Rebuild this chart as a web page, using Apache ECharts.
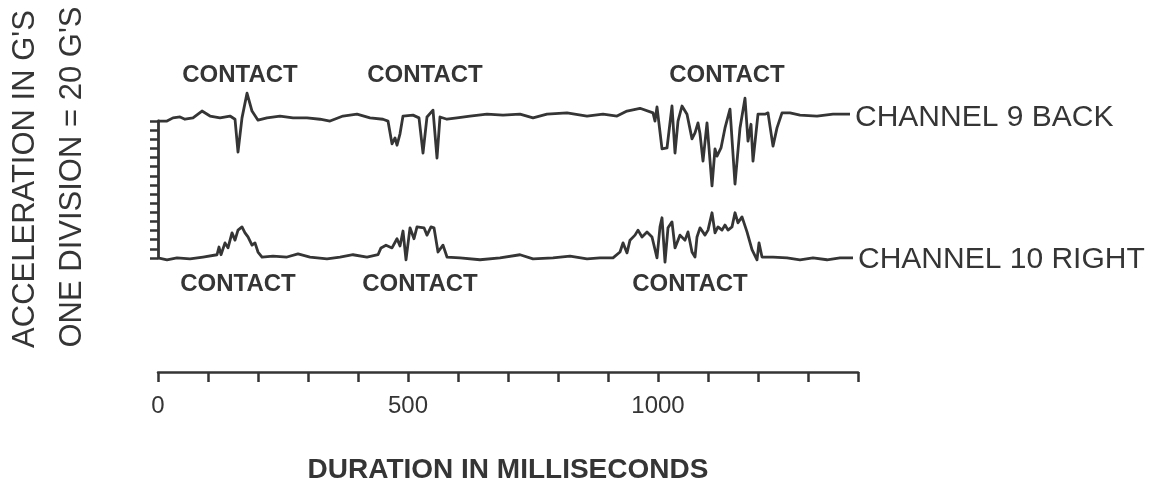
<!DOCTYPE html>
<html>
<head>
<meta charset="utf-8">
<script src="https://cdn.jsdelivr.net/npm/echarts@6/dist/echarts.min.js"></script>
<style>
  html, body { margin: 0; padding: 0; background: #fff; }
  #chart { width: 1162px; height: 493px; }
</style>
</head>
<body>
<div id="chart"></div>
<script>
// time in milliseconds, acceleration in G's relative to each channel's own baseline
const timeCh9 = [0, 4, 18, 30, 44, 54, 70, 88, 104, 124, 144, 154, 160, 168, 178, 188, 200, 218, 244, 270,
  298, 324, 344, 370, 398, 424, 450, 460, 468, 474, 478, 484, 490, 510, 522, 530, 538, 550, 558, 564,
  578, 598, 624, 658, 690, 724, 750, 778, 818, 858, 890, 918, 938, 964, 990, 994, 998, 1008, 1018, 1028,
  1034, 1040, 1048, 1058, 1068, 1074, 1080, 1084, 1090, 1098, 1108, 1114, 1118, 1126, 1134, 1144, 1154, 1164, 1174, 1180,
  1186, 1190, 1200, 1214, 1220, 1230, 1238, 1248, 1264, 1284, 1318, 1350, 1384];
const accelCh9 = [0, 2, 0, 7, 9, 4, 7, 22, 11, 7, 11, 4, -68, 7, 61, 22, 2, 7, 11, 7,
  7, 4, 0, 11, 15, 7, 4, 0, -50, -37, -53, -28, 11, 13, 7, -70, 9, 24, -81, 9,
  4, 7, 11, 15, 13, 15, 7, 15, 18, 11, 15, 11, 22, 28, 18, 0, 31, -61, -59, 33,
  -70, 0, 33, 15, -39, -26, -4, -28, -88, -4, -142, -61, -77, -59, -15, 26, -138, -15, 50, -44,
  -7, -88, 15, 15, 18, -55, -15, 18, 18, 13, 11, 15, 15];

const timeCh10 = [0, 18, 38, 64, 90, 118, 122, 126, 134, 140, 148, 154, 160, 168, 174, 180, 188, 194, 200, 208,
  230, 258, 280, 304, 338, 364, 390, 418, 440, 446, 456, 468, 478, 484, 490, 496, 504, 512, 518, 532,
  538, 546, 552, 560, 570, 578, 604, 644, 684, 724, 750, 790, 824, 858, 884, 910, 924, 930, 938, 944,
  954, 960, 968, 978, 988, 998, 1004, 1008, 1014, 1020, 1028, 1034, 1044, 1054, 1060, 1068, 1074, 1078, 1084, 1094,
  1100, 1108, 1114, 1120, 1128, 1134, 1140, 1148, 1154, 1160, 1168, 1178, 1188, 1198, 1202, 1208, 1230, 1258, 1284, 1310,
  1338, 1364, 1390];
const accelCh10 = [0, -4, 0, -2, 2, 7, 24, 7, 33, 22, 55, 39, 61, 68, 55, 46, 28, 33, 13, 2,
  4, 2, 9, 2, -2, 2, 7, 2, 7, 22, 28, 22, 42, 26, 59, -4, 66, 42, 68, 66,
  50, 68, 66, 13, 28, 2, 0, -4, 0, 7, -2, 0, 4, -2, 0, 0, 13, 33, 11, 39,
  50, 61, 46, 57, 46, 0, 68, 88, -9, 66, 79, 22, 50, 39, 57, 13, 2, 46, 66, 50,
  61, 99, 55, 68, 61, 72, 61, 68, 99, 77, 90, 57, 18, -4, 33, 2, 2, 0, -4, 0,
  -4, 0, 0];

const channelNames = ['CHANNEL 9 BACK', 'CHANNEL 10 RIGHT'];
const channelOffsets = [300, 0];            // 15 divisions apart
const xLabelValues = [0, 500, 1000];
const contactTop = [[164, 400], [534, 400], [1138, 400]];
const contactBottom = [[160, -57], [524, -57], [1064, -57]];

const ink = '#353535';

const toPairs = (times, vals, off) => times.map((t, i) => [t, vals[i] + off]);

const contactMark = (coords) => ({
  symbol: 'circle',
  symbolSize: 0,
  silent: true,
  label: {
    show: true,
    position: 'inside',
    formatter: 'CONTACT',
    color: ink,
    fontFamily: 'Liberation Sans',
    fontWeight: 'bold',
    fontSize: 24
  },
  data: coords.map(c => ({ coord: c }))
});

const traceSeries = (name, times, vals, off, marks, labelOffset) => ({
  name: name,
  type: 'line',
  xAxisIndex: 0,
  yAxisIndex: 0,
  data: toPairs(times, vals, off),
  showSymbol: false,
  clip: false,
  animation: false,
  lineStyle: { color: ink, width: 2.8, join: 'round' },
  endLabel: {
    show: true,
    formatter: name,
    color: ink,
    fontFamily: 'Liberation Sans',
    fontSize: 30,
    distance: 5,
    offset: labelOffset
  },
  markPoint: contactMark(marks)
});

const chart = echarts.init(document.getElementById('chart'));

chart.setOption({
  backgroundColor: '#fff',
  animation: false,
  grid: [
    { left: 158, right: 304, top: 7, bottom: 121 },
    { left: 158, width: 10, top: 121, bottom: 235 }
  ],
  xAxis: [
    {
      gridIndex: 0,
      type: 'value',
      min: 0,
      max: 1400,
      interval: 100,
      name: 'DURATION IN MILLISECONDS',
      nameLocation: 'middle',
      nameGap: 84,
      nameTextStyle: { color: ink, fontFamily: 'Liberation Sans', fontWeight: 'bold', fontSize: 28 },
      axisLine: { show: true, onZero: false, lineStyle: { color: ink, width: 2.5 } },
      axisTick: { show: true, length: 10, lineStyle: { color: ink, width: 2.5 } },
      axisLabel: {
        color: ink,
        fontFamily: 'Liberation Sans',
        fontSize: 24,
        margin: 22,
        formatter: v => (xLabelValues.includes(v) ? String(v) : '')
      },
      splitLine: { show: false }
    },
    { gridIndex: 1, type: 'value', min: 0, max: 1, show: false }
  ],
  yAxis: [
    {
      gridIndex: 0,
      type: 'value',
      min: -250,
      max: 550,
      show: false
    },
    {
      gridIndex: 1,
      type: 'value',
      min: 0,
      max: 300,
      interval: 20,
      axisLine: { show: true, lineStyle: { color: ink, width: 2.8 } },
      axisTick: { show: true, length: 8, lineStyle: { color: ink, width: 2.5 } },
      axisLabel: { show: false },
      splitLine: { show: false }
    }
  ],
  graphic: [
    {
      type: 'text',
      x: 25, y: 179,
      rotation: Math.PI / 2,
      style: {
        text: "ACCELERATION IN G'S",
        fill: ink,
        font: '31px "Liberation Sans"',
        align: 'center',
        verticalAlign: 'middle'
      }
    },
    {
      type: 'text',
      x: 72, y: 177,
      rotation: Math.PI / 2,
      style: {
        text: "ONE DIVISION = 20 G'S",
        fill: ink,
        font: '31px "Liberation Sans"',
        align: 'center',
        verticalAlign: 'middle'
      }
    }
  ],
  series: [
    traceSeries(channelNames[0], timeCh9, accelCh9, channelOffsets[0], contactTop, [0, 4]),
    traceSeries(channelNames[1], timeCh10, accelCh10, channelOffsets[1], contactBottom, [0, 2])
  ]
});

window.addEventListener('resize', () => chart.resize());
</script>
</body>
</html>
